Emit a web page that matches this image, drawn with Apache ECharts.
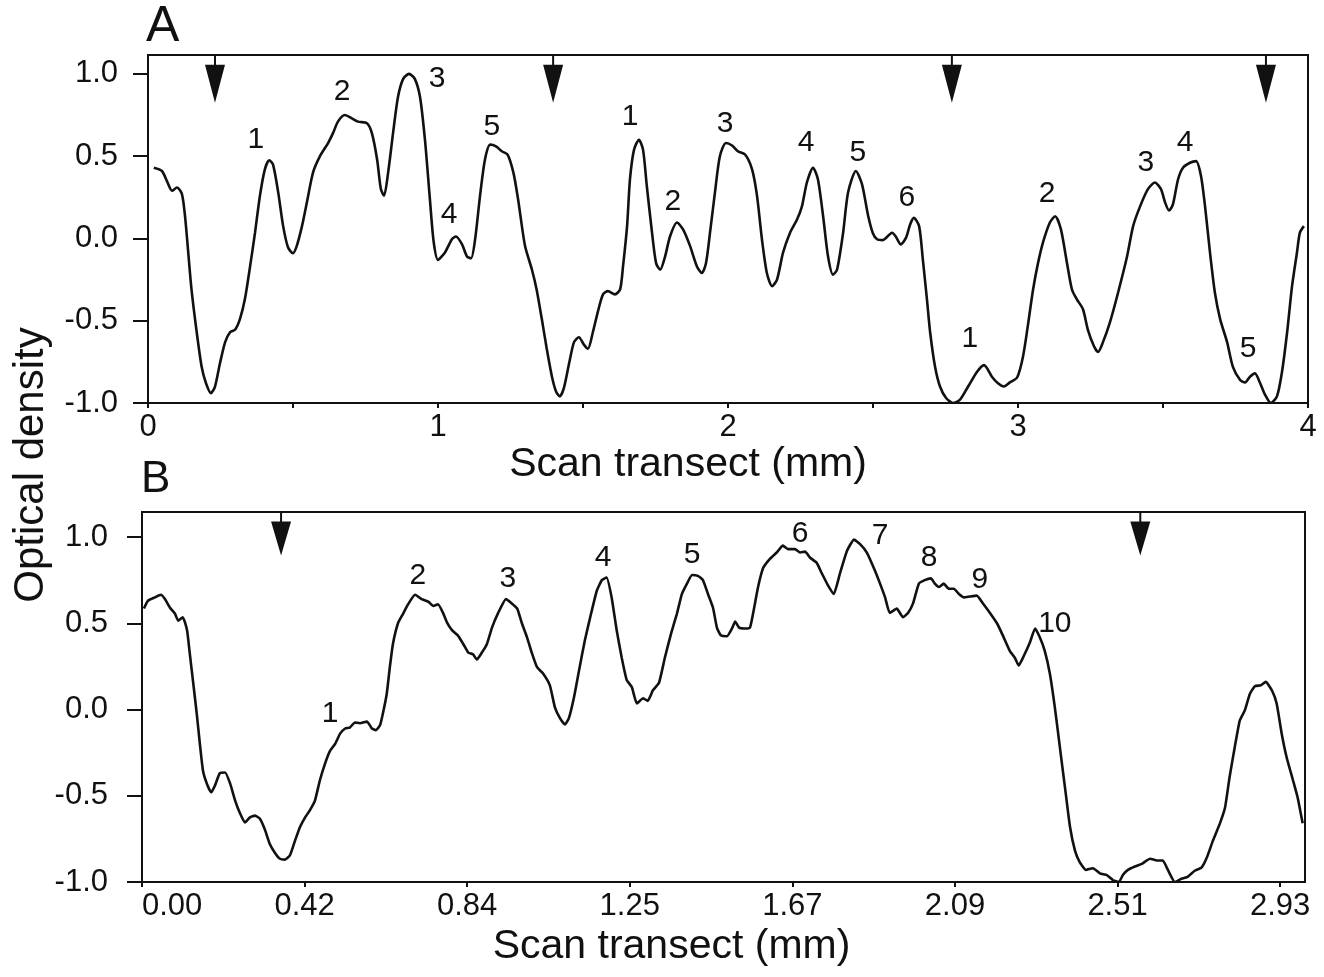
<!DOCTYPE html>
<html>
<head>
<meta charset="utf-8">
<script src="https://cdn.jsdelivr.net/npm/echarts@6/dist/echarts.min.js"></script>
<style>
html,body{margin:0;padding:0;background:#fff;}
#chart{width:1324px;height:977px;}
</style>
</head>
<body>
<div id="chart"></div>
<script>
// ---------- DATA ----------
// Panel A: scan transect (mm) vs optical density
var transectA = [
[0.02,0.43],[0.048,0.41],[0.065,0.35],[0.083,0.29],[0.10,0.31],[0.117,0.27],[0.128,0.13],[0.138,-0.07],[0.15,-0.31],[0.168,-0.57],[0.185,-0.78],[0.20,-0.88],[0.217,-0.94],[0.231,-0.90],[0.248,-0.76],[0.266,-0.63],[0.283,-0.57],[0.30,-0.555],[0.317,-0.49],[0.334,-0.37],[0.352,-0.17],[0.369,0.035],[0.386,0.26],[0.403,0.42],[0.418,0.475],[0.431,0.45],[0.449,0.28],[0.466,0.075],[0.483,-0.055],[0.50,-0.09],[0.513,-0.045],[0.531,0.075],[0.548,0.22],[0.569,0.40],[0.593,0.50],[0.621,0.58],[0.638,0.64],[0.655,0.71],[0.679,0.75],[0.703,0.73],[0.724,0.71],[0.755,0.70],[0.772,0.64],[0.79,0.48],[0.803,0.30],[0.814,0.26],[0.828,0.40],[0.845,0.64],[0.862,0.86],[0.88,0.97],[0.90,1.0],[0.92,0.97],[0.938,0.86],[0.955,0.60],[0.972,0.24],[0.985,-0.02],[1.0,-0.13],[1.024,-0.085],[1.048,-0.005],[1.062,0.012],[1.083,-0.036],[1.10,-0.11],[1.114,-0.12],[1.128,-0.005],[1.145,0.26],[1.162,0.48],[1.18,0.57],[1.20,0.56],[1.22,0.53],[1.24,0.51],[1.26,0.40],[1.276,0.24],[1.30,-0.045],[1.324,-0.19],[1.34,-0.31],[1.358,-0.49],[1.375,-0.67],[1.393,-0.84],[1.407,-0.93],[1.42,-0.96],[1.434,-0.91],[1.452,-0.76],[1.469,-0.63],[1.486,-0.60],[1.503,-0.645],[1.517,-0.67],[1.534,-0.57],[1.552,-0.44],[1.569,-0.34],[1.586,-0.32],[1.61,-0.34],[1.628,-0.31],[1.638,-0.17],[1.652,0.075],[1.662,0.36],[1.676,0.54],[1.693,0.60],[1.707,0.54],[1.72,0.32],[1.738,0.035],[1.752,-0.15],[1.766,-0.19],[1.783,-0.11],[1.80,0.012],[1.824,0.097],[1.845,0.055],[1.869,-0.045],[1.893,-0.17],[1.91,-0.21],[1.924,-0.15],[1.938,0.035],[1.955,0.28],[1.972,0.50],[1.993,0.58],[2.014,0.565],[2.034,0.53],[2.059,0.51],[2.083,0.42],[2.10,0.26],[2.117,-0.005],[2.134,-0.21],[2.152,-0.29],[2.169,-0.25],[2.19,-0.085],[2.214,0.035],[2.238,0.115],[2.255,0.195],[2.272,0.34],[2.293,0.43],[2.31,0.36],[2.328,0.135],[2.345,-0.11],[2.362,-0.22],[2.376,-0.19],[2.397,0.035],[2.414,0.28],[2.441,0.41],[2.462,0.33],[2.483,0.14],[2.50,0.03],[2.514,-0.005],[2.534,-0.01],[2.566,0.035],[2.579,0.01],[2.596,-0.036],[2.614,0.005],[2.628,0.085],[2.641,0.125],[2.659,0.075],[2.672,-0.13],[2.686,-0.37],[2.697,-0.57],[2.714,-0.78],[2.731,-0.90],[2.752,-0.97],[2.776,-1.0],[2.80,-0.98],[2.828,-0.90],[2.859,-0.81],[2.883,-0.77],[2.91,-0.84],[2.931,-0.88],[2.952,-0.90],[2.972,-0.875],[2.997,-0.845],[3.017,-0.72],[3.034,-0.53],[3.052,-0.31],[3.069,-0.15],[3.086,-0.025],[3.11,0.097],[3.128,0.135],[3.148,0.055],[3.169,-0.15],[3.186,-0.31],[3.203,-0.37],[3.224,-0.43],[3.241,-0.555],[3.262,-0.655],[3.276,-0.69],[3.293,-0.63],[3.317,-0.51],[3.345,-0.33],[3.376,-0.11],[3.397,0.075],[3.421,0.195],[3.448,0.30],[3.472,0.34],[3.493,0.30],[3.507,0.22],[3.521,0.17],[3.534,0.205],[3.552,0.36],[3.569,0.43],[3.593,0.46],[3.614,0.47],[3.631,0.38],[3.645,0.195],[3.662,-0.085],[3.679,-0.33],[3.697,-0.49],[3.721,-0.63],[3.741,-0.78],[3.766,-0.86],[3.783,-0.875],[3.80,-0.84],[3.817,-0.82],[3.834,-0.875],[3.852,-0.95],[3.872,-1.0],[3.893,-0.96],[3.91,-0.815],[3.928,-0.57],[3.945,-0.29],[3.962,-0.085],[3.972,0.035],[3.986,0.075]
];
// Panel B
var transectB = [
[0.005,0.585],[0.015,0.63],[0.033,0.65],[0.049,0.665],[0.059,0.64],[0.072,0.59],[0.085,0.555],[0.093,0.515],[0.105,0.535],[0.116,0.46],[0.123,0.325],[0.131,0.17],[0.141,-0.025],[0.149,-0.20],[0.157,-0.355],[0.167,-0.43],[0.178,-0.48],[0.188,-0.44],[0.20,-0.37],[0.214,-0.365],[0.227,-0.43],[0.24,-0.53],[0.252,-0.60],[0.265,-0.655],[0.278,-0.625],[0.291,-0.615],[0.304,-0.635],[0.317,-0.70],[0.329,-0.78],[0.342,-0.83],[0.355,-0.865],[0.368,-0.87],[0.381,-0.845],[0.394,-0.76],[0.407,-0.68],[0.42,-0.625],[0.432,-0.585],[0.445,-0.53],[0.458,-0.41],[0.471,-0.315],[0.484,-0.24],[0.497,-0.20],[0.51,-0.14],[0.523,-0.11],[0.535,-0.105],[0.548,-0.075],[0.561,-0.08],[0.579,-0.07],[0.592,-0.11],[0.602,-0.12],[0.613,-0.09],[0.62,-0.025],[0.63,0.09],[0.638,0.245],[0.646,0.38],[0.659,0.50],[0.672,0.555],[0.685,0.61],[0.703,0.665],[0.72,0.64],[0.737,0.625],[0.75,0.60],[0.762,0.61],[0.775,0.56],[0.785,0.505],[0.798,0.46],[0.813,0.43],[0.827,0.38],[0.84,0.33],[0.852,0.32],[0.862,0.29],[0.875,0.33],[0.888,0.38],[0.901,0.475],[0.917,0.56],[0.937,0.64],[0.952,0.615],[0.966,0.585],[0.978,0.50],[0.991,0.42],[1.004,0.325],[1.017,0.245],[1.032,0.21],[1.05,0.14],[1.063,0.012],[1.076,-0.05],[1.089,-0.087],[1.099,-0.05],[1.112,0.07],[1.125,0.225],[1.14,0.40],[1.156,0.555],[1.171,0.69],[1.184,0.75],[1.196,0.765],[1.209,0.65],[1.222,0.46],[1.235,0.30],[1.248,0.17],[1.261,0.13],[1.274,0.035],[1.29,0.065],[1.302,0.05],[1.315,0.11],[1.331,0.155],[1.346,0.30],[1.362,0.44],[1.377,0.555],[1.39,0.67],[1.403,0.73],[1.416,0.78],[1.431,0.775],[1.444,0.75],[1.457,0.67],[1.47,0.59],[1.48,0.475],[1.49,0.43],[1.506,0.425],[1.519,0.47],[1.527,0.51],[1.537,0.475],[1.552,0.47],[1.565,0.475],[1.573,0.555],[1.586,0.71],[1.599,0.82],[1.617,0.875],[1.634,0.91],[1.65,0.95],[1.663,0.93],[1.681,0.93],[1.694,0.91],[1.707,0.915],[1.72,0.88],[1.737,0.85],[1.75,0.79],[1.766,0.72],[1.781,0.67],[1.797,0.79],[1.815,0.92],[1.833,0.985],[1.848,0.96],[1.866,0.91],[1.887,0.805],[1.90,0.73],[1.913,0.65],[1.925,0.56],[1.943,0.585],[1.959,0.535],[1.972,0.56],[1.985,0.615],[2.0,0.73],[2.015,0.75],[2.031,0.76],[2.041,0.73],[2.052,0.71],[2.064,0.73],[2.077,0.70],[2.09,0.70],[2.103,0.67],[2.116,0.65],[2.131,0.655],[2.149,0.66],[2.165,0.615],[2.183,0.56],[2.201,0.50],[2.216,0.43],[2.234,0.34],[2.247,0.30],[2.257,0.255],[2.27,0.31],[2.286,0.39],[2.299,0.47],[2.311,0.42],[2.324,0.34],[2.337,0.21],[2.35,0.012],[2.363,-0.22],[2.376,-0.45],[2.389,-0.68],[2.402,-0.82],[2.414,-0.885],[2.43,-0.93],[2.448,-0.92],[2.466,-0.95],[2.484,-0.96],[2.50,-0.99],[2.515,-1.0],[2.525,-0.96],[2.538,-0.93],[2.556,-0.91],[2.574,-0.895],[2.595,-0.865],[2.613,-0.875],[2.628,-0.875],[2.641,-0.93],[2.659,-1.0],[2.677,-0.98],[2.692,-0.97],[2.71,-0.935],[2.728,-0.915],[2.741,-0.86],[2.757,-0.76],[2.775,-0.66],[2.788,-0.57],[2.80,-0.39],[2.813,-0.22],[2.826,-0.064],[2.839,-0.005],[2.852,0.09],[2.865,0.135],[2.88,0.14],[2.893,0.16],[2.909,0.11],[2.921,0.035],[2.934,-0.14],[2.947,-0.28],[2.963,-0.41],[2.975,-0.51],[2.988,-0.66]
];
// Peak labels [x, y, text]
var peaksA = [
[0.372,0.60,'1'],[0.669,0.89,'2'],[0.997,0.97,'3'],[1.038,0.146,'4'],[1.186,0.68,'5'],
[1.662,0.74,'1'],[1.81,0.225,'2'],[1.99,0.70,'3'],[2.269,0.58,'4'],[2.448,0.52,'5'],[2.617,0.25,'6'],
[2.834,-0.61,'1'],[3.10,0.27,'2'],[3.441,0.46,'3'],[3.576,0.58,'4'],[3.793,-0.67,'5']
];
var peaksB = [
[0.484,-0.025,'1'],[0.71,0.777,'2'],[0.942,0.76,'3'],[1.187,0.88,'4'],[1.416,0.90,'5'],
[1.694,1.02,'6'],[1.90,1.01,'7'],[2.026,0.88,'8'],[2.157,0.75,'9'],[2.35,0.50,'10']
];
// Arrow marker positions (mm)
var arrowsA = [0.231, 1.397, 2.772, 3.855];
var arrowsB = [0.358, 2.57];
// Axis ticks
var yTicks = [-1, -0.5, 0, 0.5, 1];
var xTicksA = [0, 0.5, 1, 1.5, 2, 2.5, 3, 3.5, 4];
var xLabelsA = [0, 1, 2, 3, 4];
var xTickLabelsB = ['0.00','0.42','0.84','1.25','1.67','2.09','2.51','2.93'];
var stepB = 2.93 / 7;

// ---------- CHART ----------
var FONT = "'Liberation Sans', Arial, Helvetica, sans-serif";
var INK = '#111';
var chart = echarts.init(document.getElementById('chart'), null, {renderer:'canvas'});
var arrowPath = 'path://M9,0 L11,0 L11,10 L20,10 L10,48 L0,10 L9,10 Z';
var xValsB = xTickLabelsB.map(function(l,i){return i*stepB;});

function yAxisCfg(gridIndex, max, margin){
  return {
    type:'value', gridIndex:gridIndex, min:-1, max:max,
    axisLine:{show:true, onZero:false, lineStyle:{color:INK, width:2}},
    axisTick:{show:true, inside:false, length:15, lineStyle:{color:INK, width:2}, customValues:yTicks},
    axisLabel:{color:INK, fontSize:31, fontFamily:FONT, margin:margin, customValues:yTicks,
      formatter:function(v){ return v.toFixed(1); }},
    splitLine:{show:false}
  };
}
function labelSeries(ax, pts){
  return {type:'scatter', xAxisIndex:ax, yAxisIndex:ax, symbolSize:0.1,
    itemStyle:{color:INK, opacity:1},
    data:pts.map(function(p){return {value:[p[0],p[1]], name:p[2]};}),
    label:{show:true, position:'inside', formatter:'{b}', color:INK, fontSize:30, fontFamily:FONT},
    silent:true, z:5};
}

var option = {
  backgroundColor:'#ffffff',
  animation:false,
  grid:[
    {left:148, top:55, width:1160, height:348, show:true, borderColor:INK, borderWidth:2, backgroundColor:'transparent'},
    {left:142, top:512, width:1163, height:370, show:true, borderColor:INK, borderWidth:2, backgroundColor:'transparent'}
  ],
  xAxis:[
    {type:'value', gridIndex:0, min:0, max:4,
      name:'Scan transect (mm)', nameLocation:'middle', nameGap:24,
      nameTextStyle:{color:INK, fontSize:41, fontFamily:FONT, padding:[0,80,0,0]},
      axisLine:{show:true, onZero:false, lineStyle:{color:INK, width:2}},
      axisTick:{show:true, length:5, lineStyle:{color:INK, width:2}, customValues:xTicksA},
      axisLabel:{color:INK, fontSize:31, fontFamily:FONT, margin:9, customValues:xLabelsA,
        formatter:function(v){ return String(Math.round(v)); }},
      splitLine:{show:false}},
    {type:'value', gridIndex:1, min:0, max:2.994,
      name:'Scan transect (mm)', nameLocation:'middle', nameGap:44,
      nameTextStyle:{color:INK, fontSize:41, fontFamily:FONT, padding:[0,104,0,0]},
      axisLine:{show:true, onZero:false, lineStyle:{color:INK, width:2}},
      axisTick:{show:true, length:5, lineStyle:{color:INK, width:2}, customValues:xValsB},
      axisLabel:{color:INK, fontSize:31, fontFamily:FONT, margin:9, customValues:xValsB,
        alignMinLabel:'left',
        formatter:function(v){ return xTickLabelsB[Math.round(v/stepB)]; }},
      splitLine:{show:false}}
  ],
  yAxis:[ yAxisCfg(0, 1.115, 30), yAxisCfg(1, 1.145, 34) ],
  series:[
    {type:'line', xAxisIndex:0, yAxisIndex:0, data:transectA, showSymbol:false, smooth:0.25,
      lineStyle:{color:INK, width:2.6}, silent:true},
    {type:'line', xAxisIndex:1, yAxisIndex:1, data:transectB, showSymbol:false, smooth:0.15,
      lineStyle:{color:INK, width:2.6}, silent:true},
    {type:'scatter', xAxisIndex:0, yAxisIndex:0, symbol:arrowPath, symbolSize:[20,48],
      itemStyle:{color:INK, opacity:1}, data:arrowsA.map(function(x){return [x,0.97];}), silent:true},
    {type:'scatter', xAxisIndex:1, yAxisIndex:1, symbol:arrowPath, symbolSize:[20,43],
      itemStyle:{color:INK, opacity:1}, data:arrowsB.map(function(x){return [x,1.017];}), silent:true},
    labelSeries(0, peaksA),
    labelSeries(1, peaksB)
  ],
  graphic:[
    {type:'text', left:146, top:2, style:{text:'A', font:'50px '+FONT, fill:INK}},
    {type:'text', left:141, top:458, style:{text:'B', font:'44px '+FONT, fill:INK}},
    {type:'text', x:31, y:465, rotation:Math.PI/2,
      style:{text:'Optical density', font:'42px '+FONT, fill:INK, align:'center', verticalAlign:'middle'}}
  ]
};
chart.setOption(option);
</script>
</body>
</html>
